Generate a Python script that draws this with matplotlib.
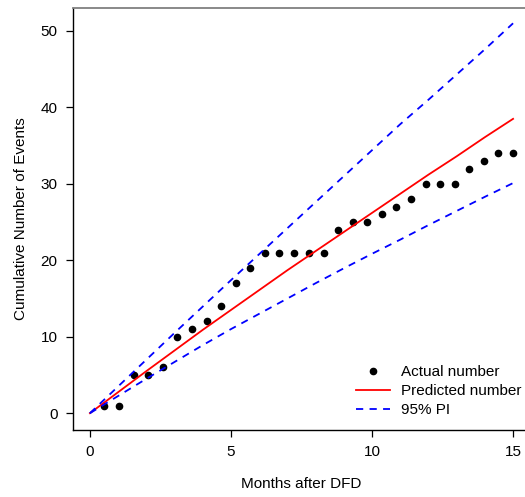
import matplotlib
matplotlib.use("Agg")
import matplotlib.pyplot as plt

# observed cumulative events
months_obs = [0.51, 1.04, 1.55, 2.06, 2.58, 3.10, 3.62, 4.14, 4.66, 5.17,
              5.69, 6.21, 6.72, 7.24, 7.76, 8.28, 8.79, 9.31, 9.83, 10.34,
              10.86, 11.38, 11.90, 12.41, 12.93, 13.45, 13.97, 14.48, 15.00]
actual = [1, 1, 5, 5, 6, 10, 11, 12, 14, 17, 19, 21, 21, 21, 21, 21, 24, 25,
          25, 26, 27, 28, 30, 30, 30, 32, 33, 34, 34]

# model prediction with 95% prediction interval
months_pred = list(range(0, 16))
predicted = [0, 2.75, 5.5, 8.2, 10.9, 13.5, 16.1, 18.7, 21.2, 23.7, 26.2,
             28.7, 31.2, 33.6, 36.1, 38.5]
pi_lower = [0, 2.25, 4.5, 6.7, 8.9, 11.0, 13.0, 15.0, 17.0, 18.95, 20.85,
            22.7, 24.6, 26.45, 28.3, 30.1]
pi_upper = [0, 3.5, 7.0, 10.5, 13.95, 17.4, 20.8, 24.2, 27.6, 31.0, 34.4,
            37.8, 41.0, 44.3, 47.6, 51.0]

plt.rcParams['font.family'] = ['Liberation Sans', 'DejaVu Sans']

fig = plt.figure(figsize=(5.25, 4.97), dpi=100)
ax = fig.add_axes([73 / 525, 1 - 430 / 497, 457 / 525, 422 / 497])

ax.plot(months_obs, actual, 'o', color='black', ms=4.5, label='Actual number')
ax.plot(months_pred, predicted, '-', color='red', lw=1.3, label='Predicted number')
ax.plot(months_pred, pi_upper, '--', color='blue', lw=1.3, dashes=(4, 3.5),
        label='95% PI')
ax.plot(months_pred, pi_lower, '--', color='blue', lw=1.3, dashes=(4, 3.5))

ax.set_xlim(-0.6, 15.6)
ax.set_ylim(-2.2, 53.0)
ax.set_xticks([0, 5, 10, 15])
ax.set_yticks([0, 10, 20, 30, 40, 50])
ax.tick_params(direction='out', length=5, width=0.9, labelsize=11, pad=6)
for side in ['left', 'bottom']:
    ax.spines[side].set_linewidth(1.0)
ax.spines['top'].set_color('#808080')
ax.spines['top'].set_linewidth(1.3)
ax.spines['right'].set_visible(False)

ax.set_xlabel('Months after DFD', fontsize=11, labelpad=12.5)
ax.set_ylabel('Cumulative Number of Events', fontsize=11, labelpad=9.5)

ax.legend(loc='upper left', bbox_to_anchor=(350 / 525, 1 - 359 / 497),
          bbox_transform=fig.transFigure, frameon=False, fontsize=11,
          handlelength=2.2, handletextpad=0.75, labelspacing=0.32,
          borderaxespad=0)

fig.savefig('out.png', dpi=100)
